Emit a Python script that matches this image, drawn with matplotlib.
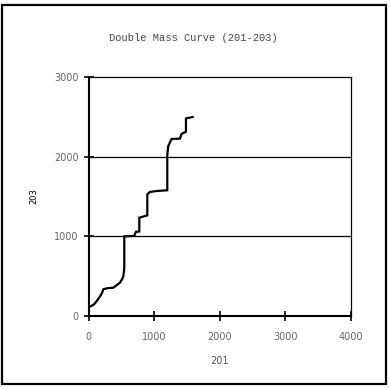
import matplotlib.pyplot as plt
from matplotlib.patches import Rectangle

# cumulative totals
station_201 = [15, 60, 92, 130, 168, 200, 219, 260, 300, 371, 420, 473, 505, 524, 535, 540,
               540, 600, 692, 718, 769, 769, 891, 891, 931, 1033, 1196, 1196,
               1211, 1262, 1389, 1414, 1481, 1481, 1583]
station_203 = [117, 135, 159, 200, 243, 290, 335, 345, 350, 355, 385, 418, 460, 494, 560, 620,
               1000, 1002, 1004, 1058, 1060, 1234, 1263, 1527, 1556, 1569, 1578, 2021,
               2134, 2222, 2226, 2285, 2313, 2480, 2497]

title_text = "Double Mass Curve (201-203)"
x_label = "201"
y_label = "203"
x_ticks = [0, 1000, 2000, 3000, 4000]
y_ticks = [0, 1000, 2000, 3000]

fig = plt.figure(figsize=(3.9, 3.88), dpi=100)
fig.patches.append(Rectangle((0.006, 0.01), 0.984, 0.978, transform=fig.transFigure,
                             fill=False, edgecolor="black", linewidth=1.6))

ax = fig.add_axes([0.228, 0.1856, 0.672, 0.616])
ax.plot(station_201, station_203, color="black", linewidth=1.6, solid_joinstyle="miter")

ax.set_xlim(0, 4000)
ax.set_ylim(0, 3000)
ax.set_xticks(x_ticks)
ax.set_yticks(y_ticks)
for y in y_ticks[1:-1]:
    ax.axhline(y, color="black", linewidth=0.9, zorder=0)

for side in ["left", "bottom"]:
    ax.spines[side].set_linewidth(1.5)
for side in ["top", "right"]:
    ax.spines[side].set_linewidth(0.9)

ax.tick_params(direction="inout", length=7, width=1.2, labelsize=7, labelcolor="#666666", pad=4)
ax.tick_params(axis="x", pad=8)

ax.set_xlabel(x_label, fontsize=7, color="#555555", labelpad=10)
ax.set_ylabel(y_label, fontsize=6, color="black", labelpad=11)
fig.text(0.495, 0.902, title_text, ha="center", va="center",
         family="Liberation Mono", fontsize=7.5, color="#444444")

fig.savefig("out.png", dpi=100)
